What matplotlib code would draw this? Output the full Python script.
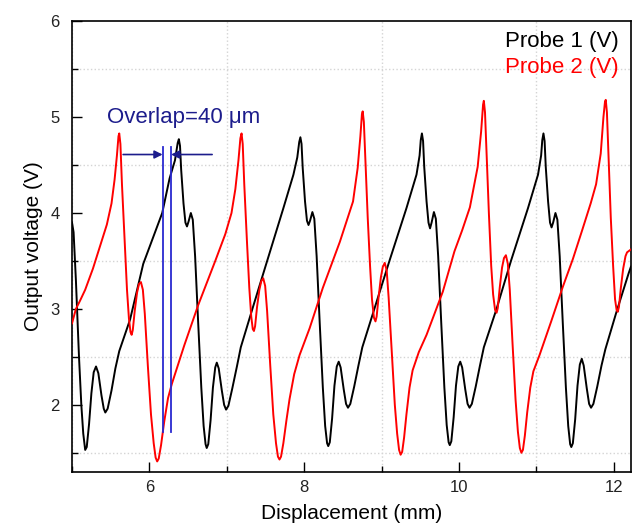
import matplotlib
matplotlib.use("Agg")
import matplotlib.pyplot as plt
from matplotlib.ticker import MultipleLocator

plt.rcParams['font.family'] = ['Liberation Sans', 'DejaVu Sans']

# ---- data ----
probe1_x = [5.00, 5.02, 5.05, 5.09, 5.12, 5.145, 5.17, 5.19, 5.22, 5.25, 5.28, 5.31, 5.34,
            5.38, 5.41, 5.43, 5.46, 5.51, 5.56, 5.61, 5.75, 5.92, 6.05, 6.165, 6.26, 6.33,
            6.365, 6.38, 6.395, 6.41, 6.44, 6.465, 6.485, 6.505, 6.535, 6.56, 6.59, 6.63,
            6.67, 6.70, 6.725, 6.74, 6.76, 6.79, 6.82, 6.85, 6.87, 6.895, 6.935, 6.965,
            6.99, 7.02, 7.07, 7.13, 7.18, 7.33, 7.52, 7.73, 7.86, 7.91, 7.935, 7.95, 7.965,
            7.98, 8.01, 8.035, 8.055, 8.075, 8.105, 8.13, 8.16, 8.20, 8.24, 8.27, 8.295,
            8.31, 8.33, 8.36, 8.39, 8.42, 8.445, 8.47, 8.51, 8.54, 8.565, 8.595, 8.645,
            8.70, 8.75, 8.91, 9.10, 9.32, 9.45, 9.49, 9.505, 9.52, 9.535, 9.55, 9.58,
            9.605, 9.625, 9.645, 9.675, 9.70, 9.73, 9.77, 9.81, 9.84, 9.865, 9.88, 9.90,
            9.93, 9.96, 9.99, 10.015, 10.04, 10.08, 10.11, 10.135, 10.165, 10.215, 10.27,
            10.32, 10.48, 10.67, 10.89, 11.02, 11.06, 11.075, 11.09, 11.105, 11.12, 11.15,
            11.175, 11.195, 11.215, 11.245, 11.27, 11.30, 11.34, 11.38, 11.41, 11.435,
            11.45, 11.47, 11.50, 11.53, 11.56, 11.585, 11.61, 11.65, 11.68, 11.705,
            11.735, 11.785, 11.84, 11.89, 12.03, 12.19, 12.22]
probe1_y = [3.90, 3.80, 3.30, 2.50, 2.00, 1.70, 1.53, 1.56, 1.80, 2.12, 2.34, 2.40, 2.33,
            2.10, 1.96, 1.92, 1.96, 2.15, 2.38, 2.56, 2.89, 3.47, 3.75, 4.00, 4.36, 4.55,
            4.73, 4.77, 4.70, 4.45, 4.10, 3.90, 3.86, 3.91, 4.00, 3.93, 3.55, 2.85,
            2.18, 1.78, 1.59, 1.55, 1.59, 1.84, 2.18, 2.39, 2.44, 2.38, 2.15, 2.00,
            1.95, 1.99, 2.17, 2.40, 2.60, 3.00, 3.50, 4.05, 4.40, 4.58, 4.74, 4.79, 4.72,
            4.47, 4.12, 3.92, 3.875, 3.92, 4.01, 3.94, 3.55, 2.85, 2.18, 1.78, 1.60,
            1.57, 1.61, 1.86, 2.20, 2.40, 2.45, 2.39, 2.16, 2.01, 1.97, 2.01, 2.19,
            2.41, 2.60, 3.01, 3.50, 4.05, 4.40, 4.60, 4.76, 4.83, 4.75, 4.48, 4.12,
            3.90, 3.84, 3.90, 4.01, 3.94, 3.55, 2.85, 2.18, 1.79, 1.61, 1.58, 1.62,
            1.87, 2.20, 2.40, 2.45, 2.39, 2.16, 2.01, 1.97, 2.01, 2.19, 2.41,
            2.60, 2.99, 3.50, 4.05, 4.40, 4.60, 4.76, 4.83, 4.75, 4.48, 4.12,
            3.90, 3.85, 3.90, 4.00, 3.93, 3.55, 2.85, 2.18, 1.78, 1.59,
            1.56, 1.60, 1.85, 2.20, 2.42, 2.48, 2.41, 2.17, 2.01, 1.97,
            2.01, 2.19, 2.41, 2.58, 2.96, 3.37, 3.44]

probe2_x = [5.00, 5.05, 5.10, 5.17, 5.27, 5.36, 5.45, 5.51, 5.55, 5.58, 5.60, 5.61, 5.625,
            5.645, 5.68, 5.71, 5.735, 5.755, 5.77, 5.785, 5.81, 5.84, 5.865, 5.89, 5.915,
            5.94, 5.98, 6.02, 6.055, 6.08, 6.10, 6.12, 6.15, 6.19, 6.24, 6.29, 6.37, 6.45,
            6.63, 6.85, 6.98, 7.06, 7.11, 7.15, 7.175, 7.19, 7.205, 7.225, 7.26, 7.29,
            7.315, 7.335, 7.35, 7.365, 7.39, 7.42, 7.445, 7.47, 7.495, 7.52, 7.56, 7.60,
            7.635, 7.66, 7.68, 7.70, 7.73, 7.77, 7.81, 7.87, 7.94, 8.07, 8.24, 8.46, 8.63,
            8.69, 8.725, 8.745, 8.755, 8.77, 8.79, 8.82, 8.85, 8.875, 8.90, 8.92, 8.935,
            8.96, 8.99, 9.015, 9.04, 9.065, 9.09, 9.13, 9.17, 9.20, 9.225, 9.245, 9.265,
            9.29, 9.32, 9.36, 9.40, 9.48, 9.58, 9.79, 9.94, 10.04, 10.14, 10.24, 10.285,
            10.31, 10.32, 10.335, 10.355, 10.385, 10.415, 10.44, 10.465, 10.485, 10.50,
            10.525, 10.555, 10.58, 10.605, 10.63, 10.655, 10.69, 10.73, 10.76, 10.785,
            10.805, 10.825, 10.85, 10.88, 10.92, 10.96, 11.04, 11.19, 11.34, 11.47, 11.59,
            11.70, 11.77, 11.83, 11.865, 11.885, 11.895, 11.91, 11.93, 11.96, 11.99,
            12.015, 12.035, 12.05, 12.065, 12.09, 12.12, 12.15, 12.17, 12.22]
probe2_y = [2.85, 3.00, 3.08, 3.20, 3.42, 3.65, 3.88, 4.10, 4.35, 4.60, 4.80, 4.83, 4.72,
            4.30, 3.70, 3.20, 2.90, 2.76, 2.73, 2.78, 2.98, 3.17, 3.26, 3.28, 3.20,
            2.95, 2.40, 1.90, 1.60, 1.45, 1.41, 1.44, 1.58, 1.82, 2.07, 2.22, 2.42, 2.62,
            3.04, 3.50, 3.78, 4.00, 4.25, 4.55, 4.78, 4.83, 4.72, 4.30, 3.70, 3.22,
            2.92, 2.79, 2.77, 2.82, 3.02, 3.20, 3.29, 3.32, 3.24, 2.98, 2.42, 1.90,
            1.60, 1.46, 1.43, 1.46, 1.60, 1.84, 2.06, 2.32, 2.52, 2.80, 3.22, 3.70, 4.12,
            4.47, 4.80, 5.03, 5.06, 4.95, 4.55, 3.95, 3.45, 3.10, 2.91, 2.87, 2.92,
            3.12, 3.33, 3.44, 3.48, 3.40, 3.12, 2.55, 2.00, 1.70, 1.53, 1.48, 1.51,
            1.66, 1.90, 2.18, 2.36, 2.55, 2.73, 3.18, 3.60, 3.82, 4.06, 4.48, 4.85,
            5.13, 5.17, 5.05, 4.62, 4.00, 3.45, 3.15, 2.99, 2.96, 3.01,
            3.22, 3.43, 3.53, 3.56, 3.47, 3.20, 2.65, 2.05, 1.72, 1.55,
            1.50, 1.53, 1.68, 1.92, 2.18, 2.35, 2.52, 2.87, 3.23, 3.52, 3.82,
            4.10, 4.30, 4.62, 5.00, 5.16, 5.18, 5.05, 4.60, 3.95, 3.45,
            3.10, 2.99, 2.97, 3.02, 3.22, 3.42, 3.55, 3.59, 3.62]

series_labels = ["Probe 1 (V)", "Probe 2 (V)"]
x_ticks = [6, 8, 10, 12]
y_ticks = [2, 3, 4, 5, 6]
overlap_text = "Overlap=40 μm"
overlap_lines_x = [6.17, 6.28]
overlap_lines_y = [1.72, 4.69]
arrow_y = 4.61
arrow_left_start = 5.66
arrow_right_start = 6.81

# ---- figure ----
fig = plt.figure(figsize=(6.38, 5.26), dpi=100)
ax = fig.add_axes([0.1129, 0.1027, 0.876, 0.857])

blue_text = '#1c1c8c'
blue_line = '#2a2ad0'

ax.plot(probe1_x, probe1_y, color='black', lw=1.4, solid_joinstyle='round', zorder=3)
ax.plot(probe2_x, probe2_y, color='#ff0000', lw=1.4, solid_joinstyle='round', zorder=3)

# overlap annotation
for xv in overlap_lines_x:
    ax.plot([xv, xv], overlap_lines_y, color=blue_line, lw=1.3, zorder=4)
ax.annotate('', xy=(overlap_lines_x[0], arrow_y), xytext=(arrow_left_start, arrow_y),
            arrowprops=dict(arrowstyle='-|>', color=blue_text, lw=1.2, mutation_scale=12,
                            shrinkA=0, shrinkB=0), zorder=5)
ax.annotate('', xy=(overlap_lines_x[1], arrow_y), xytext=(arrow_right_start, arrow_y),
            arrowprops=dict(arrowstyle='-|>', color=blue_text, lw=1.2, mutation_scale=12,
                            shrinkA=0, shrinkB=0), zorder=5)
ax.text(5.45, 5.0, overlap_text, color=blue_text, fontsize=16, va='center', ha='left')

# legend as coloured text
ax.text(0.978, 0.955, series_labels[0], color='black', fontsize=16, ha='right', va='center',
        transform=ax.transAxes)
ax.text(0.978, 0.897, series_labels[1], color='#ff0000', fontsize=16, ha='right', va='center',
        transform=ax.transAxes)

ax.set_xlim(5.0, 12.22)
ax.set_ylim(1.3, 6.0)
ax.set_xticks(x_ticks)
ax.set_yticks(y_ticks)
ax.xaxis.set_minor_locator(MultipleLocator(1))
ax.yaxis.set_minor_locator(MultipleLocator(0.5))
ax.grid(which='minor', color='#d4d4d4', linestyle=':', linewidth=1.0)
ax.grid(which='major', visible=False)
ax.set_axisbelow(True)

ax.tick_params(which='major', direction='in', length=7, width=1.0, labelsize=12, pad=6,
               labelcolor='#222222')
ax.tick_params(which='minor', direction='in', length=4, width=1.0)
ax.tick_params(axis='y', pad=9)
for s in ax.spines.values():
    s.set_linewidth(1.2)

ax.set_xlabel('Displacement (mm)', fontsize=15, labelpad=6)
ax.set_ylabel('Output voltage (V)', fontsize=15, labelpad=5)

fig.savefig('out.png', dpi=100)
